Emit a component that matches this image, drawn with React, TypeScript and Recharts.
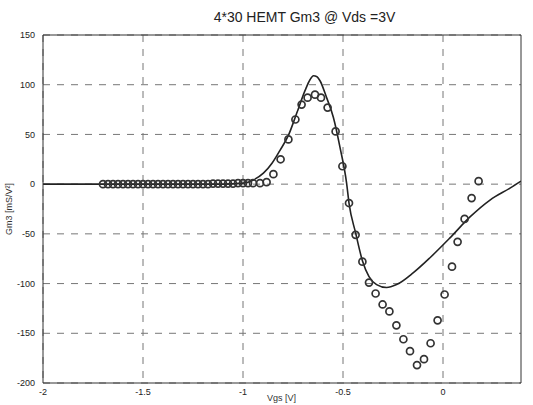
import React from 'react';
import { ComposedChart, Line, Scatter, XAxis, YAxis, CartesianGrid, Label, ReferenceLine } from 'recharts';

// measured points (circles)
const measVgs = [
  -1.7, -1.675, -1.65, -1.625, -1.6, -1.575, -1.55, -1.525, -1.5, -1.475,
  -1.45, -1.425, -1.4, -1.375, -1.35, -1.325, -1.3, -1.275, -1.25, -1.225,
  -1.2, -1.175, -1.15, -1.125, -1.1, -1.075, -1.05, -1.025, -1.0, -0.975,
  -0.95, -0.915, -0.882, -0.848, -0.812, -0.773, -0.738, -0.707, -0.677, -0.64,
  -0.61, -0.577, -0.537, -0.503, -0.47, -0.437, -0.403, -0.37, -0.337, -0.302,
  -0.268, -0.233, -0.198, -0.165, -0.13, -0.095, -0.062, -0.027, 0.008, 0.045,
  0.073, 0.108, 0.143, 0.178,
];
const measGm3 = [
  0, 0, 0, 0, 0, 0, 0, 0, 0, 0,
  0, 0, 0, 0, 0, 0, 0, 0, 0, 0,
  0, 0, 0.5, 0.5, 0.5, 0.5, 0.5, 1, 1, 1,
  1, 1, 2, 10, 25, 45, 65, 80, 87, 90,
  87, 77, 53, 18, -19, -51, -78, -99, -110, -121,
  -128, -142, -156, -168, -182, -176, -160, -137, -111, -83,
  -58, -35, -14, 3,
];

// model curve (solid line)
const modelVgs = [
  -2, -1.5, -1.1, -1.0, -0.95, -0.898, -0.855, -0.815, -0.773, -0.732,
  -0.69, -0.665, -0.648, -0.63, -0.615, -0.582, -0.548, -0.515, -0.482, -0.47,
  -0.437, -0.403, -0.37, -0.332, -0.282, -0.232, -0.148, -0.065, 0.035, 0.135,
  0.235, 0.335, 0.39,
];
const modelGm3 = [
  0, 0, 0, 1, 4, 11, 21, 34, 49, 71,
  94, 105, 109, 108, 104, 87, 67, 37, 1, -19,
  -49, -77, -93, -101, -104, -101, -89, -74, -54, -33,
  -16, -4, 3,
];

const xTicks = [-2, -1.5, -1, -0.5, 0];
const yTicks = [-200, -150, -100, -50, 0, 50, 100, 150];

const measData = measVgs.map((x, i) => ({ x, y: measGm3[i] }));
const modelData = modelVgs.map((x, i) => ({ x, y: modelGm3[i] }));

const font = 'Liberation Sans, Arial, sans-serif';

const Ring = (props: any) => {
  const { cx, cy } = props;
  return <circle cx={cx} cy={cy} r={3.5} fill="none" stroke="#333" strokeWidth={1.7} />;
};

export default function App() {
  return (
    <div style={{ position: 'absolute', left: 0, top: 0, width: 533, height: 405, background: '#fff', overflow: 'hidden', fontFamily: font }}>
      <div style={{ position: 'absolute', left: 0, width: 533, top: 9, textAlign: 'center', paddingLeft: 76, boxSizing: 'border-box', fontSize: 14, color: '#222' }}>
        4*30 HEMT Gm3 @ Vds =3V
      </div>
      <div style={{ position: 'absolute', left: 0, width: 533, top: 393, lineHeight: '11px', textAlign: 'center', paddingLeft: 30, boxSizing: 'border-box', fontSize: 9, color: '#333' }}>
        Vgs [V]
      </div>
      <ComposedChart width={533} height={405} margin={{ top: 35, right: 12, bottom: 2, left: 3 }}>
        <CartesianGrid
          xAxisId="b"
          yAxisId="l"
          stroke="#777"
          strokeDasharray="7 7"
          strokeWidth={1}
          verticalValues={xTicks}
          horizontalValues={yTicks}
        />
        <XAxis
          xAxisId="b"
          type="number"
          dataKey="x"
          domain={[-2, 0.39]}
          ticks={xTicks}
          allowDataOverflow
          height={20}
          stroke="#333"
          tickLine={false}
          tick={{ fontSize: 9, fill: '#222', fontFamily: font }}
          tickMargin={0}
        />
        <YAxis
          yAxisId="l"
          type="number"
          dataKey="y"
          domain={[-200, 150]}
          ticks={yTicks}
          width={40}
          stroke="#333"
          tickLine={false}
          tick={{ fontSize: 9, fill: '#222', fontFamily: font }}
          tickMargin={2}
        >
          <Label
            value="Gm3 [mS/V²]"
            angle={-90}
            position="insideLeft"
            offset={6}
            style={{ fontSize: 9, fill: '#333', textAnchor: 'middle' }}
          />
        </YAxis>
        <ReferenceLine xAxisId="b" yAxisId="l" y={150} stroke="#333" />
        <ReferenceLine xAxisId="b" yAxisId="l" x={0.39} stroke="#333" />
        <Line
          xAxisId="b"
          yAxisId="l"
          data={modelData}
          dataKey="y"
          type="monotone"
          stroke="#222"
          strokeWidth={1.6}
          dot={false}
          isAnimationActive={false}
        />
        <Scatter
          xAxisId="b"
          yAxisId="l"
          data={measData}
          dataKey="y"
          shape={Ring}
          isAnimationActive={false}
        />
      </ComposedChart>
    </div>
  );
}
